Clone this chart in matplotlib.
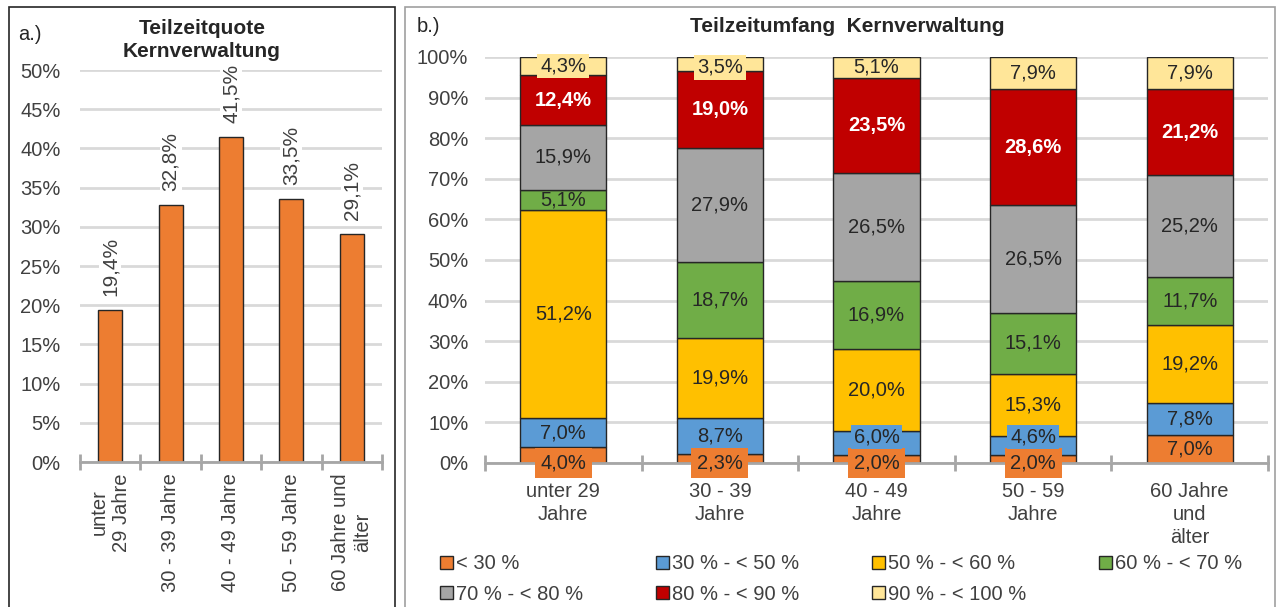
import numpy as np
import matplotlib.pyplot as plt
from matplotlib.patches import Rectangle, Patch

plt.rcParams['font.family'] = ['Liberation Sans', 'DejaVu Sans']

# panel a: part-time rate by age
cats_a = ['unter\n29 Jahre', '30 - 39 Jahre', '40 - 49 Jahre', '50 - 59 Jahre', '60 Jahre und\nälter']
quote = [19.4, 32.8, 41.5, 33.5, 29.1]

# panel b: part-time extent by age (stacked, bottom to top)
cats_b = ['unter 29\nJahre', '30 - 39\nJahre', '40 - 49\nJahre', '50 - 59\nJahre', '60 Jahre\nund\nälter']
groups = ['< 30 %', '30 % - < 50 %', '50 % - < 60 %', '60 % - < 70 %',
          '70 % - < 80 %', '80 % - < 90 %', '90 % - < 100 %']
shares = [
    [4.0, 2.3, 2.0, 2.0, 7.0],
    [7.0, 8.7, 6.0, 4.6, 7.8],
    [51.2, 19.9, 20.0, 15.3, 19.2],
    [5.1, 18.7, 16.9, 15.1, 11.7],
    [15.9, 27.9, 26.5, 26.5, 25.2],
    [12.4, 19.0, 23.5, 28.6, 21.2],
    [4.3, 3.5, 5.1, 7.9, 7.9],
]
colors = ['#ED7D31', '#5B9BD5', '#FFC000', '#70AD47', '#A5A5A5', '#C00000', '#FFE699']

txt = '#404040'
grid = '#D9D9D9'
axisc = '#A6A6A6'
fs = 14.5

fig = plt.figure(figsize=(12.81, 6.07), dpi=100)
W, H = 1281, 607

def fx(px):
    return px / W

def fy(py):
    return 1 - py / H

# panel frames
fig.patches.append(Rectangle((fx(9), fy(612)), fx(395 - 9), fy(7) - fy(612),
                             transform=fig.transFigure, fill=False, ec='#262626', lw=1.2))
fig.patches.append(Rectangle((fx(405), fy(612)), fx(1275 - 405), fy(7) - fy(612),
                             transform=fig.transFigure, fill=False, ec='#A0A0A0', lw=1.2))

def style_axis(ax, n):
    for s in ['top', 'right', 'left']:
        ax.spines[s].set_visible(False)
    ax.spines['bottom'].set_color(axisc)
    ax.spines['bottom'].set_linewidth(2)
    ax.yaxis.grid(True, color=grid, lw=2)
    ax.set_axisbelow(True)
    ax.tick_params(axis='y', length=0, labelsize=fs, colors=txt, pad=14)
    ax.set_xticks(np.arange(-0.5, n, 1.0), minor=True)
    ax.tick_params(axis='x', which='minor', length=12, width=2, color=axisc, direction='inout')
    ax.tick_params(axis='x', which='major', length=0, labelsize=fs, colors=txt)
    ax.set_xlim(-0.5, n - 0.5)

# ---- panel a ----
axa = fig.add_axes([fx(80), fy(462), fx(382 - 80), fy(70) - fy(462)])
xa = np.arange(len(quote))
axa.bar(xa, quote, width=0.4, color='#ED7D31', edgecolor='#262626', lw=1)
style_axis(axa, len(quote))
axa.set_ylim(0, 50)
axa.set_yticks(np.arange(0, 51, 5))
axa.set_yticklabels([f'{v}%' for v in range(0, 51, 5)])
axa.set_xticks(xa)
axa.set_xticklabels(cats_a, rotation=90, ha='center', va='top', multialignment='center')
axa.tick_params(axis='x', which='major', pad=8)
for x, v in zip(xa, quote):
    axa.annotate(f'{v:.1f}%'.replace('.', ','), (x, v), xytext=(0, 10), textcoords='offset points',
                 rotation=90, ha='center', va='bottom', fontsize=15, color=txt,
                 bbox=dict(fc='white', ec='none', pad=1))
fig.text(fx(18), fy(35), 'a.)', fontsize=fs, color='#262626', va='center')
fig.text(fx(202), fy(40), 'Teilzeitquote\nKernverwaltung', fontsize=15, fontweight='bold',
         color='#262626', ha='center', va='center', linespacing=1.25)

# ---- panel b ----
axb = fig.add_axes([fx(485), fy(463), fx(1268 - 485), fy(57) - fy(463)])
xb = np.arange(len(cats_b))
bottom = np.zeros(len(cats_b))
for i, (g, vals, c) in enumerate(zip(groups, shares, colors)):
    vals = np.array(vals)
    axb.bar(xb, vals, width=0.55, bottom=bottom, color=c, edgecolor='#262626', lw=1, label=g, zorder=2)
    for j, v in enumerate(vals):
        y = bottom[j] + v / 2
        lab = f'{v:.1f}%'.replace('.', ',')
        kw = dict(ha='center', va='center', fontsize=fs, color='#262626', zorder=5)
        if i == 5:
            kw.update(color='white', fontweight='bold')
        box = None
        if i == 0 and j < 4:
            y = 0
            box = dict(fc=c, ec='none', pad=4)
        elif i == 1:
            y = max(y, 6.4)
            if j >= 2:
                box = dict(fc=c, ec='none', pad=2)
        elif i == 6 and j < 2:
            y = bottom[j] + v / 2 - (0.8 if j == 1 else 0)
            box = dict(fc=c, ec='none', pad=2)
        axb.text(j, y, lab, bbox=box, **kw)
    bottom += vals
style_axis(axb, len(cats_b))
axb.set_ylim(0, 100)
axb.set_yticks(np.arange(0, 101, 10))
axb.set_yticklabels([f'{v}%' for v in range(0, 101, 10)])
axb.tick_params(axis='y', pad=12)
axb.set_xticks(xb)
axb.set_xticklabels(cats_b, linespacing=1.25)
axb.tick_params(axis='x', which='major', pad=14)
fig.text(fx(417), fy(27), 'b.)', fontsize=fs, color='#262626', va='center')
fig.text(fx(847), fy(27), 'Teilzeitumfang  Kernverwaltung', fontsize=15, fontweight='bold',
         color='#262626', ha='center', va='center')

# legend, filled row by row
handles = [Patch(fc=c, ec='#262626', lw=1) for c in colors]
order = [0, 4, 1, 5, 2, 6, 3]
leg = fig.legend([handles[k] for k in order], [groups[k] for k in order], ncol=4,
                 loc='center left', bbox_to_anchor=(fx(422), fy(579)), frameon=False,
                 fontsize=fs, handlelength=0.65, handleheight=0.65, handletextpad=0.15,
                 columnspacing=3.6, labelspacing=0.55, labelcolor=txt)

fig.savefig('out.png', dpi=100)
